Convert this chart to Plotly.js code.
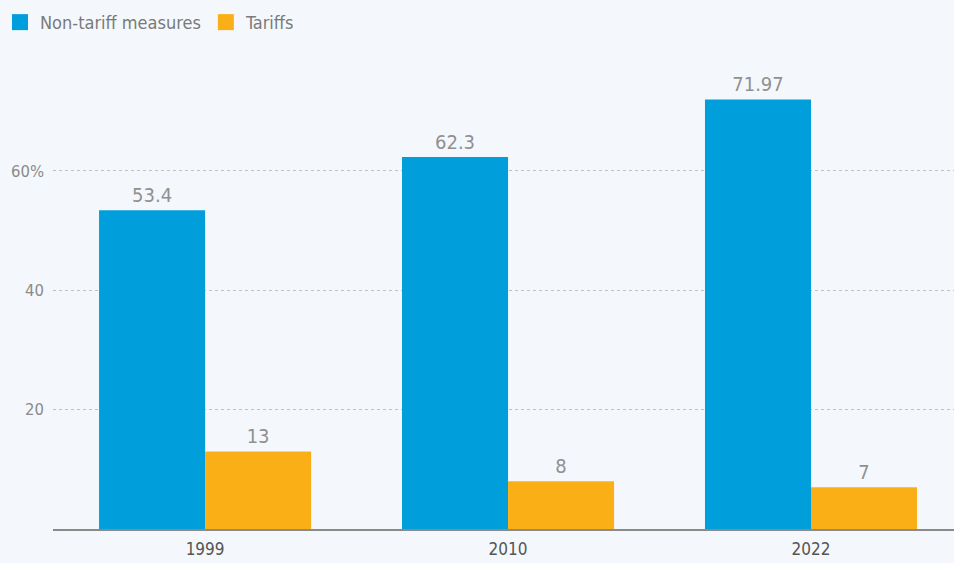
<!DOCTYPE html>
<html>
<head>
<meta charset="utf-8">
<script src="https://cdn.plot.ly/plotly-3.0.1.min.js"></script>
<style>html,body{margin:0;padding:0;background:#f4f8fc;}#chart{width:954px;height:563px;}</style>
</head>
<body>
<div id="chart"></div>
<script>
const years = ["1999", "2010", "2022"];
const nonTariff = [53.4, 62.3, 71.97];
const tariffs = [13, 8, 7];
const seriesNames = ["Non-tariff measures", "Tariffs"];
const seriesColors = ["#009edb", "#fbaf17"];
const yTickVals = [20, 40, 60];
const yTickText = ["20", "40", "60%"];

const FONT = '"DejaVu Sans Condensed", "Liberation Sans Narrow", "Liberation Sans", Arial, sans-serif';
const LABEL_FONT = {family: FONT, size: 20, color: "#909090", stretch: "condensed"};

const traces = [
  {
    type: "bar", name: seriesNames[0], x: years, y: nonTariff, showlegend: false,
    marker: {color: seriesColors[0]},
    text: nonTariff.map(String), textposition: "outside", cliponaxis: false,
    textfont: LABEL_FONT
  },
  {
    type: "bar", name: seriesNames[1], x: years, y: tariffs, showlegend: false,
    marker: {color: seriesColors[1]},
    text: tariffs.map(String), textposition: "outside", cliponaxis: false,
    textfont: LABEL_FONT
  },
  {
    type: "scatter", mode: "markers", name: seriesNames[0], x: [null], y: [null],
    marker: {symbol: "square", size: 20, color: seriesColors[0]}, hoverinfo: "skip"
  },
  {
    type: "scatter", mode: "markers", name: seriesNames[1], x: [null], y: [null],
    marker: {symbol: "square", size: 20, color: seriesColors[1]}, hoverinfo: "skip"
  }
];

const layout = {
  width: 954, height: 563,
  paper_bgcolor: "#f4f8fc", plot_bgcolor: "#f4f8fc",
  margin: {l: 53, r: 0, t: 40, b: 33.5, autoexpand: false},
  barmode: "group", bargap: 0.3, bargroupgap: 0,
  font: {family: FONT, color: "#8a8a8a"},
  showlegend: true,
  legend: {orientation: "h", xref: "container", x: 0, xanchor: "left",
           yref: "container", y: 0.993, yanchor: "top",
           font: {family: FONT, size: 18, color: "#7a7a7a", stretch: "condensed"},
           itemwidth: 30, tracegroupgap: 0, bgcolor: "rgba(0,0,0,0)"},
  xaxis: {
    type: "category", range: [-0.502, 2.472], showgrid: false,
    showline: true, linecolor: "#8a8a8a", linewidth: 2, ticks: "", ticklabelstandoff: 4,
    tickfont: {family: FONT, size: 17, color: "#555", stretch: "condensed"}, fixedrange: true
  },
  yaxis: {
    range: [0, 81.92], tickvals: yTickVals, ticktext: yTickText,
    showgrid: true, gridcolor: "#c0c0c0", griddash: "dot", gridwidth: 1.2,
    zeroline: false, showline: false, ticks: "", ticklabelstandoff: 8,
    tickfont: {family: FONT, size: 16.5, color: "#8a8a8a", stretch: "condensed"}, fixedrange: true
  }
};

Plotly.newPlot("chart", traces, layout, {displayModeBar: false, staticPlot: true});
</script>
</body>
</html>
